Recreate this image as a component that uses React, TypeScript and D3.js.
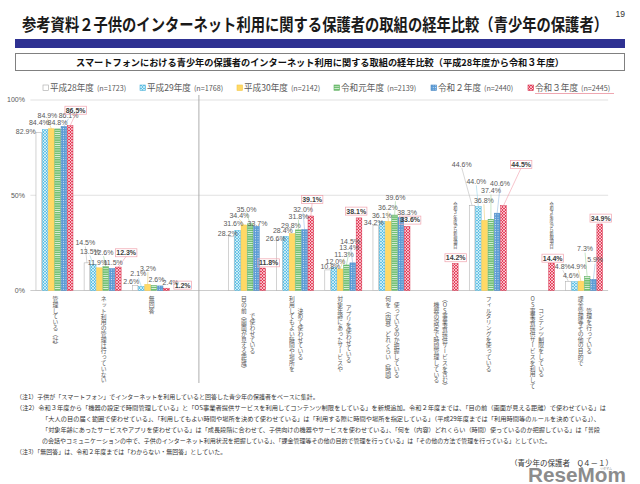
import React from 'react';
import * as d3 from 'd3';

// ---------- data ----------
const categories = [
  '管理している（計）',
  'ネット利用の管理は行っていない',
  '無回答',
  '目の前（画面が見える距離）\nで使わせている',
  '利用してもよい時間や場所を\n決めて使わせている',
  '対象年齢にあったサービスや\nアプリを使わせている',
  '何を（内容）どれくらい（時間）\n使っているのか把握している',
  '機器の設定で時間管理している\n（OS事業者提供サービスを含む）',
  'フィルタリングを使っている',
  'OS事業者提供サービスを利用して\nコンテンツ制限をしている',
  '課金管理等その他の目的で\n管理を行っている',
];
const seriesNames = ['平成28年度', '平成29年度', '平成30年度', '令和元年度', '令和２年度', '令和３年度'];
const seriesN = ['(n=1723)', '(n=1768)', '(n=2142)', '(n=2139)', '(n=2440)', '(n=2445)'];
const valuesH28 = [82.9, 14.5, 2.6, 28.2, 26.6, 10.8, 34.2, null, 44.6, null, 4.8];
const valuesH29 = [84.4, 13.5, 2.1, 31.6, 28.4, 12.0, 36.1, null, 44.0, null, 4.6];
const valuesH30 = [84.9, 11.9, 3.2, 34.4, 29.8, 11.3, 36.2, null, 36.8, null, 4.9];
const valuesR1 = [84.8, 12.6, 2.6, 35.0, 31.8, 13.4, 39.6, null, 37.4, null, 7.3];
const valuesR2 = [86.1, 11.5, 2.4, 33.7, 32.0, 14.5, 38.3, null, 40.6, null, 5.9];
const valuesR3 = [86.5, 12.3, 1.2, 11.8, 39.1, 38.1, 33.6, 14.2, 44.5, 14.4, 34.9];
const seriesValues: (number | null)[][] = [valuesH28, valuesH29, valuesH30, valuesR1, valuesR2, valuesR3];
const yTicks = [0, 50, 100];
const newItemNote = '令和３年度から新規項目';
const titleText = '参考資料２子供のインターネット利用に関する保護者の取組の経年比較（青少年の保護者）';
const pageNo = '19';
const subtitleText = 'スマートフォンにおける青少年の保護者のインターネット利用に関する取組の経年比較（平成28年度から令和３年度）';
const notes = [
  '（注1）子供が「スマートフォン」でインターネットを利用していると回答した青少年の保護者をベースに集計。',
  '（注2）令和３年度から「機器の設定で時間管理している」と「OS事業者提供サービスを利用してコンテンツ制限をしている」を新規追加。令和２年度までは、「目の前（画面が見える距離）で使わせている」は',
  '「大人の目の届く範囲で使わせている」、「利用してもよい時間や場所を決めて使わせている」は「利用する際に時間や場所を指定している」（平成29年度までは「利用時間等のルールを決めている」）、',
  '「対象年齢にあったサービスやアプリを使わせている」は「成長段階に合わせて、子供向けの機器やサービスを使わせている」、「何を（内容）どれくらい（時間）使っているのか把握している」は「普段',
  'の会話やコミュニケーションの中で、子供のインターネット利用状況を把握している」、「課金管理等その他の目的で管理を行っている」は「その他の方法で管理を行っている」としていた。',
  '（注3）「無回答」は、令和２年度までは「わからない・無回答」としていた。',
];
const sourceText = '（青少年の保護者　Q４－１）';
const logoText = 'ReseMom';
const logoKana = 'リセマム';

// ---------- layout (label offsets relative to bar top centre) ----------
const LABEL_DX = [
  [-13, -6.2, -3.9, -0.1, 4.7, 5.5],
  [-1.6, -3.3, -2, -2.2, 1.1, 7.9],
  [-3.8, -3, 0.3, 2.6, 10.4, 16.2],
  [-3.6, -4.3, -4.5, -3.7, 1.1, 5.9],
  [-3.7, -2.9, -1.1, 0.2, -1.5, 1.3],
  [2.7, 1.5, 3.8, 2.6, -2.6, -2.8],
  [-2, -0.2, -0.4, 0.9, 6.2, 3],
  [0, 0, 0, 0, 0, 0.4],
  [-10.3, -2, -0.7, 0.1, 2.9, 17.7],
  [0, 0, 0, 0, 0, 1.1],
  [-5.5, -3.7, -2.4, -2.1, 1.7, 1],
];
const LABEL_DY = [
  [-1.5, -7.6, -13.7, -6.9, -11.4, -15.6],
  [-20, -13, -5, -14, -6, -14.4],
  [-3.8, -12.5, -16, -6.2, -3.2, -3.2],
  [-2.8, -7.3, -9.3, -14.8, -3.3, -5.3],
  [-1.8, -5.7, -8.7, -13.9, -20.5, -16.7],
  [-3.9, -6.6, -14, -17, -21.2, -6.9],
  [-2.7, -6.7, -13.8, -17.4, -4.8, -6.5],
  [0, 0, 0, 0, 0, -5.8],
  [-41.2, -25, -19.7, -28.3, -29.9, -41.4],
  [0, 0, 0, 0, 0, -5],
  [-14.7, -6.7, -14.5, -27.6, -19.3, -6],
];

const FONT = '"Noto Sans CJK JP", "Noto Sans", sans-serif';
const NUMFONT = '"Liberation Sans", Arial, sans-serif';
const TEXT = '#595959';

const seriesStyle = [
  { base: '#ffffff', stroke: '#a6a6a6', kind: 'none', line: '#b0b0b0' },
  { base: '#62c3e6', stroke: '#4fb3d9', kind: 'lattice', line: '#86cfe8' },
  { base: '#ffd966', stroke: '#f2c84b', kind: 'none', line: '#e6c35a' },
  { base: '#6fbf71', stroke: '#5aae5c', kind: 'hlines', line: '#8fcc90' },
  { base: '#5b9bd5', stroke: '#4a88c2', kind: 'dots', line: '#84b2df' },
  { base: '#e6405c', stroke: '#d6304c', kind: 'lattice', line: '#ef8a9a' },
];

function numWidth(s: string, fs: number) {
  let w = 0;
  for (const c of s) {
    if (c === '.') w += 0.278;
    else if (c === '%') w += 0.889;
    else w += 0.556;
  }
  return w * fs;
}

function Pattern({ id, st }: { id: string; st: (typeof seriesStyle)[number] }) {
  if (st.kind === 'lattice')
    return (
      <pattern id={id} width={3} height={3} patternUnits="userSpaceOnUse">
        <rect width={3} height={3} fill={st.base} />
        <path d="M0,0L3,3M3,0L0,3" stroke="#fff" strokeWidth={0.6} />
      </pattern>
    );
  if (st.kind === 'hlines')
    return (
      <pattern id={id} width={3} height={2.2} patternUnits="userSpaceOnUse">
        <rect width={3} height={2.2} fill={st.base} />
        <line x1={0} x2={3} y1={0.4} y2={0.4} stroke="#fff" strokeWidth={0.7} />
      </pattern>
    );
  if (st.kind === 'dots')
    return (
      <pattern id={id} width={2.4} height={2.4} patternUnits="userSpaceOnUse">
        <rect width={2.4} height={2.4} fill={st.base} />
        <circle cx={1.2} cy={1.2} r={0.5} fill="#fff" />
      </pattern>
    );
  return (
    <pattern id={id} width={3} height={3} patternUnits="userSpaceOnUse">
      <rect width={3} height={3} fill={st.base} />
    </pattern>
  );
}

export default function App() {
  const x = d3.scaleBand<number>().domain(d3.range(12)).range([30.4, 608.1]);
  const slot = (i: number) => (i < 3 ? i : i + 1);
  const cx = (i: number) => (x(slot(i)) as number) + x.bandwidth() / 2;
  const inner = d3.scaleBand<number>().domain(d3.range(6)).range([-18.5, 18.5]).paddingInner(0.1);
  const bw = inner.bandwidth();
  const bx = (i: number, j: number) => cx(i) + (inner(j) as number);
  const bc = (i: number, j: number) => bx(i, j) + bw / 2;
  const y = d3.scaleLinear().domain([0, 100]).range([290.5, 100]);
  const sepX = (x(3) as number) + x.bandwidth() / 2;
  const [x0, x1] = x.range();

  const legendX = (j: number) => 43 + j * 97;
  const labelFs = 5.8;

  return (
    <svg
      width={640}
      height={484}
      viewBox="0 0 640 484"
      style={{ position: 'absolute', left: 0, top: 0, background: '#fff', fontFamily: FONT }}
    >
      <defs>
        {seriesStyle.map((st, j) => (
          <Pattern key={j} id={`pat${j}`} st={st} />
        ))}
      </defs>
      <rect width={640} height={484} fill="#fff" />

      {/* header */}
      <text x={22} y={31} fontSize={17} fontWeight={700} fill="#1a1a1a" textLength={586} lengthAdjust="spacingAndGlyphs">
        {titleText}
      </text>
      <text x={625} y={17} fontSize={8.5} fill="#333" textAnchor="end" fontFamily={NUMFONT}>
        {pageNo}
      </text>
      <rect x={15} y={39} width={610} height={9} fill="#2e3192" />
      <rect x={15.5} y={53.5} width={609} height={17} fill="#fff" stroke="#808080" strokeWidth={1} />
      <text x={320} y={65.5} fontSize={9.5} fontWeight={700} fill="#111" textAnchor="middle" textLength={488} lengthAdjust="spacingAndGlyphs">
        {subtitleText}
      </text>

      {/* legend */}
      {seriesNames.map((nm, j) => (
        <g key={nm}>
          <rect x={legendX(j)} y={85} width={5.5} height={5.5} fill={`url(#pat${j})`} stroke={seriesStyle[j].stroke} strokeWidth={0.6} />
          <text x={legendX(j) + 7} y={91.3} fontSize={8.6} fill={TEXT}>
            {nm}
            <tspan fontSize={7.2} dx={3}>{seriesN[j]}</tspan>
          </text>
          {j === 5 && <line x1={legendX(j) + 7} x2={legendX(j) + 86} y1={93.5} y2={93.5} stroke="#e46c7c" strokeWidth={0.6} />}
        </g>
      ))}

      {/* grid */}
      {yTicks.map((t) => (
        <g key={t}>
          <line x1={x0} x2={x1} y1={y(t)} y2={y(t)} stroke={t === 0 ? '#bfbfbf' : '#d9d9d9'} strokeWidth={0.8} />
          <text x={25} y={y(t) + 2.4} fontSize={7} fill={TEXT} textAnchor="end" fontFamily={NUMFONT}>
            {t}%
          </text>
        </g>
      ))}
      <line x1={sepX} x2={sepX} y1={95} y2={383} stroke="#a6a6a6" strokeWidth={0.9} />

      {/* bars */}
      {seriesValues.map((vals, j) =>
        vals.map((v, i) =>
          v == null ? null : (
            <rect
              key={`b${j}-${i}`}
              x={bx(i, j)}
              y={y(v)}
              width={bw}
              height={y(0) - y(v)}
              fill={`url(#pat${j})`}
              stroke={seriesStyle[j].stroke}
              strokeWidth={0.5}
            />
          )
        )
      )}

      {/* new item notes */}
      {valuesR3.map((v, i) =>
        v != null && valuesH28[i] == null ? (
          <text
            key={`n${i}`}
            x={bc(i, 5)}
            y={y(v) - 38}
            fontSize={4.2}
            fill="#404040"
            textAnchor="middle"
            style={{ writingMode: 'vertical-rl', textOrientation: 'upright' } as any}
          >
            {newItemNote}
          </text>
        ) : null
      )}

      {/* data labels */}
      {seriesValues.map((vals, j) =>
        vals.map((v, i) => {
          if (v == null) return null;
          const dx = LABEL_DX[i][j];
          const dy = LABEL_DY[i][j];
          const top = y(v);
          const lx = bc(i, j) + dx;
          const ly = top + dy;
          const txt = v.toFixed(1) + '%';
          const w = numWidth(txt, 7);
          const last = j === 5;
          return (
            <g key={`l${j}-${i}`}>
              {dy < -9 && (
                <line x1={lx} y1={ly + 3.6} x2={bc(i, j)} y2={top} stroke={seriesStyle[j].line} strokeWidth={0.5} />
              )}
              {last && (
                <rect x={lx - w / 2 - 0.8} y={ly - 3.9} width={w + 1.6} height={8} fill="none" stroke="#f0a3ae" strokeWidth={0.7} />
              )}
              <text
                x={lx}
                y={ly + 2.5}
                fontSize={7}
                fontWeight={last ? 700 : 400}
                fill={last ? '#404040' : TEXT}
                textAnchor="middle"
                fontFamily={NUMFONT}
              >
                {txt}
              </text>
            </g>
          );
        })
      )}

      {/* category labels (vertical) */}
      {categories.map((c, i) => {
        const lines = c.split('\n');
        const n = lines.length;
        const maxLen = d3.max(lines, (l) => [...l].length) as number;
        const yc = 296 + (maxLen * labelFs) / 2;
        return lines.map((ln, k) => (
          <text
            key={`c${i}-${k}`}
            x={cx(i) + 1 + (k - (n - 1) / 2) * 8.5}
            y={yc}
            fontSize={labelFs}
            fill={TEXT}
            textAnchor="middle"
            style={{ writingMode: 'vertical-lr', textOrientation: 'upright' } as any}
          >
            {ln}
          </text>
        ));
      })}

      {/* notes */}
      {notes.map((t, k) => {
        const indent = k >= 2 && k <= 4;
        const fit = k >= 1 && k <= 3;
        return (
          <text
            key={`note${k}`}
            x={indent ? 42 : 16}
            y={399 + k * 11}
            fontSize={6}
            fill="#333"
            {...(fit ? { textLength: indent ? 558 : 590, lengthAdjust: 'spacingAndGlyphs' } : {})}
          >
            {t}
          </text>
        );
      })}
      <text x={613} y={465.5} fontSize={7.5} fill="#333" textAnchor="end">
        {sourceText}
      </text>
      <text x={606} y={469.5} fontSize={3} fill="#8c8c8c" textAnchor="middle">
        {logoKana}
      </text>
      <text x={626} y={482} fontSize={20} fontWeight={700} fill="#8c8c8c" textAnchor="end" fontFamily={NUMFONT} textLength={98} lengthAdjust="spacingAndGlyphs">
        {logoText}
      </text>
    </svg>
  );
}
